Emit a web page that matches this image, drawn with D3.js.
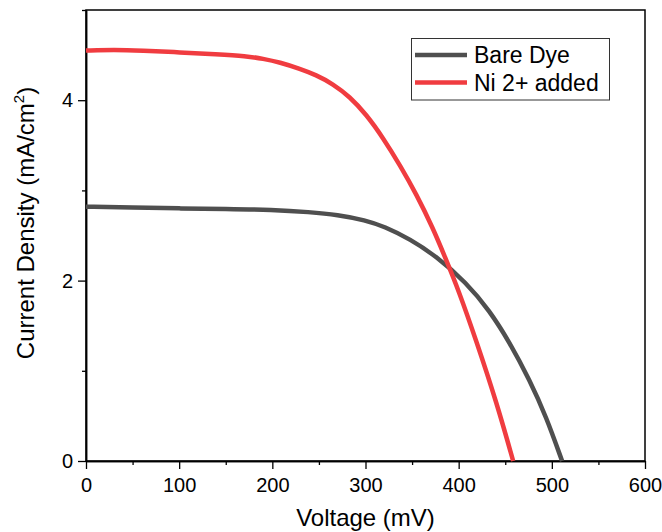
<!DOCTYPE html>
<html>
<head>
<meta charset="utf-8">
<script src="https://cdn.jsdelivr.net/npm/d3@7"></script>
<style>
  body { margin: 0; background: #fff; }
  text { font-family: "Liberation Sans", Arial, sans-serif; fill: #000; }
</style>
</head>
<body>
<svg id="chart" width="662" height="532"></svg>
<script>
// series (V in mV, J in mA/cm2)
var bareV = [0, 50, 100, 150, 200, 240, 270, 300, 320, 348, 376, 408, 433, 455, 476, 494, 511];
var bareJ = [2.82, 2.81, 2.80, 2.795, 2.785, 2.76, 2.73, 2.67, 2.60, 2.46, 2.27, 1.98, 1.67, 1.31, 0.90, 0.49, 0];
var niV = [0, 30, 60, 101, 140, 172, 190, 208, 229, 247, 265, 283, 301, 319, 337, 355, 372, 385, 400, 419, 441, 458.5];
var niJ = [4.55, 4.56, 4.55, 4.53, 4.51, 4.49, 4.46, 4.42, 4.35, 4.28, 4.18, 4.04, 3.84, 3.58, 3.28, 2.95, 2.59, 2.27, 1.89, 1.33, 0.64, 0];
var seriesNames = ["Bare Dye", "Ni 2+ added"];
var xTicks = [0, 100, 200, 300, 400, 500, 600];
var yTicks = [0, 2, 4];

var svg = d3.select("#chart");
var pl = 86, pr = 645, pt = 10, pb = 461;

var x = d3.scaleLinear().domain([0, 600]).range([pl, pr]);
var y = d3.scaleLinear().domain([0, 5]).range([pb, pt]);

// frame
svg.append("rect")
    .attr("x", pl).attr("y", pt)
    .attr("width", pr - pl).attr("height", pb - pt)
    .attr("fill", "none").attr("stroke", "#000").attr("stroke-width", 1.5);

// x axis, majors and minors
svg.append("g").attr("transform", "translate(0," + pb + ")")
    .call(d3.axisBottom(x).tickValues(xTicks).tickSize(8).tickPadding(9).tickSizeOuter(0));
svg.append("g").attr("transform", "translate(0," + pb + ")")
    .call(d3.axisBottom(x).tickValues(d3.range(50, 600, 100)).tickSize(4).tickFormat("").tickSizeOuter(0));

svg.append("g").attr("transform", "translate(" + pl + ",0)")
    .call(d3.axisLeft(y).tickValues(yTicks).tickFormat(d3.format("d")).tickSize(8).tickPadding(5).tickSizeOuter(0));
svg.append("g").attr("transform", "translate(" + pl + ",0)")
    .call(d3.axisLeft(y).tickValues([1, 3, 5]).tickSize(4).tickFormat("").tickSizeOuter(0));

svg.selectAll(".domain").attr("stroke", "#000").attr("stroke-width", 1.5);
svg.selectAll(".tick line").attr("stroke", "#000").attr("stroke-width", 1.3);
svg.selectAll(".tick text").attr("font-size", 20).attr("font-family", "Liberation Sans, Arial, sans-serif").attr("fill", "#000");

// axis titles
svg.append("text")
    .attr("x", (pl + pr) / 2).attr("y", 526)
    .attr("text-anchor", "middle").attr("font-size", 24)
    .text("Voltage (mV)");

var yt = svg.append("text")
    .attr("transform", "translate(34,223) rotate(-90)")
    .attr("text-anchor", "middle").attr("font-size", 24);
yt.append("tspan").text("Current Density (mA/cm");
yt.append("tspan").attr("font-size", 15).attr("dy", -10).text("2");
yt.append("tspan").attr("dy", 10).text(")");

// curves (basis smoothing irons out reading noise)
var line = d3.line()
    .x(function(d) { return x(d[0]); })
    .y(function(d) { return y(d[1]); })
    .curve(d3.curveBasis);

var colors = ["#4f4f4f", "#f03c40"];
var series = [d3.zip(bareV, bareJ), d3.zip(niV, niJ)];

svg.selectAll("path.curve")
    .data(series)
    .enter().append("path")
    .attr("class", "curve")
    .attr("d", line)
    .attr("fill", "none")
    .attr("stroke", function(d, i) { return colors[i]; })
    .attr("stroke-width", 4.5)
    .attr("stroke-linejoin", "round");

// legend
var lg = svg.append("g");
lg.append("rect")
    .attr("x", 411.5).attr("y", 38.5).attr("width", 198).attr("height", 61.5)
    .attr("fill", "#fff").attr("stroke", "#333").attr("stroke-width", 1);
seriesNames.forEach(function(name, i) {
    var yy = 55 + i * 27.5;
    lg.append("line")
        .attr("x1", 415).attr("x2", 467).attr("y1", yy).attr("y2", yy)
        .attr("stroke", colors[i]).attr("stroke-width", 4.5);
    lg.append("text")
        .attr("x", 474).attr("y", yy + 8)
        .attr("font-size", 23)
        .text(name);
});
</script>
</body>
</html>
